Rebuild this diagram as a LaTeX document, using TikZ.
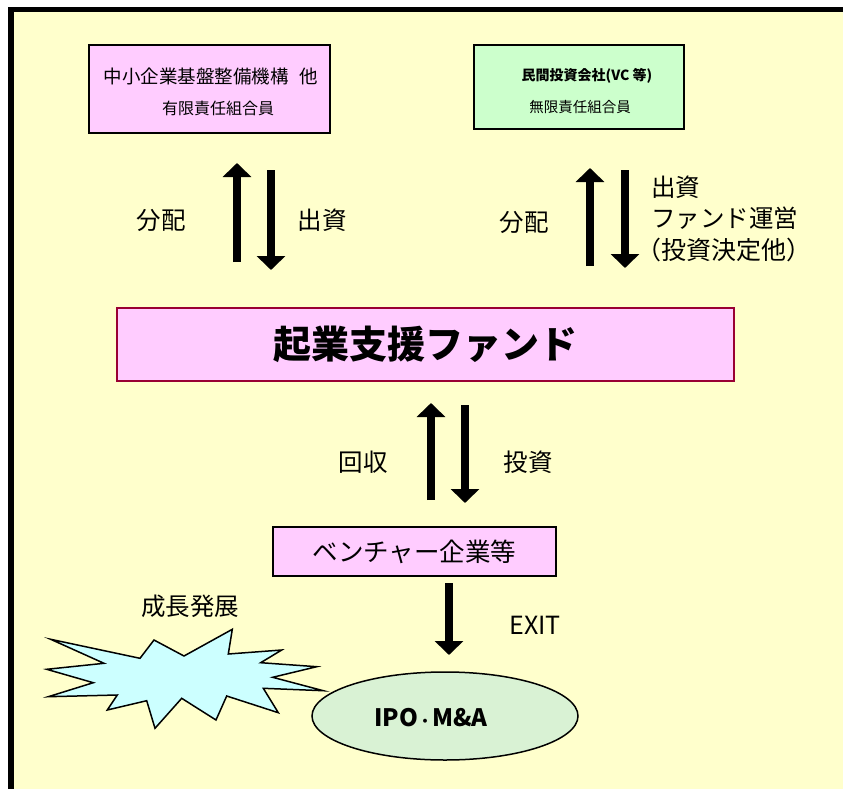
\documentclass[tikz,border=0pt]{standalone}
\usepackage{fontspec}
\setmainfont{Noto Sans CJK JP}
\usetikzlibrary{arrows.meta,shapes.geometric}
\definecolor{bgyellow}{HTML}{FFFFCC}
\definecolor{boxpink}{HTML}{FFCCFF}
\definecolor{boxgreen}{HTML}{CCFFCC}
\definecolor{burstblue}{HTML}{CCFFFF}
\definecolor{ellgreen}{HTML}{D9F2D4}
\definecolor{fundred}{HTML}{990033}
\tikzset{
  pinkbox/.style={draw=black, line width=1.5pt, fill=boxpink, inner sep=0pt, align=center},
  greenbox/.style={draw=black, line width=1.5pt, fill=boxgreen, inner sep=0pt, align=center},
  fatarrow/.style={line width=8pt, -{Triangle[width=28pt,length=14pt]}},
  lbl/.style={font=\fontsize{24.5}{28}\selectfont, inner sep=0pt, align=left},
}
\begin{document}
\begin{tikzpicture}[x=1pt,y=-1pt]
\useasboundingbox (0,0) rectangle (843,789);
\fill[white] (0,0) rectangle (843,789);
\fill[bgyellow] (8,7) rectangle (843,789);
\fill[black] (8,7) rectangle (843,12);
\fill[black] (8,7) rectangle (14,789);

% top boxes
\node[pinkbox, minimum width=241pt, minimum height=88pt] (lp) at (209.5,89) {};
\node[font=\fontsize{18.5}{20}\selectfont, inner sep=0pt] (lpa) at (211,76) {中小企業基盤整備機構\hspace{0.6em}他};
\node[font=\fontsize{16}{18}\selectfont, inner sep=0pt] (lpb) at (218,108) {有限責任組合員};

\node[greenbox, minimum width=210pt, minimum height=84pt] (gp) at (579,87) {};
\node[font=\bfseries\fontsize{14}{16}\selectfont, inner sep=0pt] (gpa) at (587,76) {民間投資会社(VC 等)};
\node[font=\fontsize{14.5}{17}\selectfont, inner sep=0pt] (gpb) at (580,107) {無限責任組合員};

% fund box
\node[draw=fundred, line width=1.2pt, fill=boxpink, minimum width=617pt, minimum height=73pt, inner sep=0pt, font=\bfseries\fontsize{38}{42}\selectfont] (fund) at (425.5,344.5) {起業支援ファンド};

% venture box
\node[pinkbox, minimum width=283pt, minimum height=49pt, font=\fontsize{25.5}{28}\selectfont] (vent) at (414.5,551.5) {ベンチャー企業等};

% arrows left pair
\coordinate (a1s) at (237,262); \coordinate (a1e) at (237,163);
\coordinate (a2s) at (271,170); \coordinate (a2e) at (271,270);
\draw[fatarrow] (a1s) -- (a1e);
\draw[fatarrow] (a2s) -- (a2e);
\node[lbl] (l1) at (161,220) {分配};
\node[lbl] (l2) at (322,220) {出資};

% arrows right pair
\coordinate (b1s) at (590,266); \coordinate (b1e) at (590,168);
\coordinate (b2s) at (625,170); \coordinate (b2e) at (625,268);
\draw[fatarrow] (b1s) -- (b1e);
\draw[fatarrow] (b2s) -- (b2e);
\node[lbl] (r1) at (524,222) {分配};
\node[lbl, anchor=west] (r2) at (651,187) {出資};
\node[lbl, anchor=west] (r3) at (651,218) {ファンド運営};
\node[lbl, anchor=west, font=\fontsize{25}{28}\selectfont] (r4) at (636,250) {（投資決定他）};

% middle pair
\coordinate (c1s) at (431,500); \coordinate (c1e) at (431,403);
\coordinate (c2s) at (465,405); \coordinate (c2e) at (465,503);
\draw[fatarrow] (c1s) -- (c1e);
\draw[fatarrow] (c2s) -- (c2e);
\node[lbl] (m1) at (363,462) {回収};
\node[lbl] (m2) at (528,462) {投資};

% exit
\coordinate (ex1) at (449,583); \coordinate (ex2) at (449,655);
\draw[fatarrow] (ex1) -- (ex2);
\node[font=\fontsize{25}{28}\selectfont, inner sep=0pt] (exit) at (535,625) {EXIT};

\node[lbl] (grow) at (190,606) {成長発展};

% starburst
\filldraw[fill=burstblue, draw=black, line width=1.5pt, line join=miter]
 (50.7,639.3) -- (140,658.3) -- (154,640) -- (184,656) -- (232.3,629.3) -- (228.3,654)
 -- (281.7,650) -- (260.7,662.7) -- (316.7,666.7) -- (272.7,677.3) -- (323.3,690.7)
 -- (263.3,688.3) -- (278.3,712.7) -- (226.7,696) -- (216,720) -- (181.7,698.3)
 -- (155,728.3) -- (146.7,700.7) -- (107.3,710) -- (117.3,695) -- (48.3,696.7)
 -- (93.3,682.7) -- (46.7,669.3) -- (104,663.3) -- cycle;

% ellipse
\node[ellipse, draw=black, line width=1.5pt, fill=ellgreen, minimum width=266pt, minimum height=88pt, inner sep=0pt] (ipo) at (445,716) {};
\node[font=\bfseries\fontsize{24}{26}\selectfont, inner sep=0pt] (ipot) at (431,718) {IPO{\fontsize{14}{16}\selectfont ・}M\&A};
\end{tikzpicture}
\end{document}
